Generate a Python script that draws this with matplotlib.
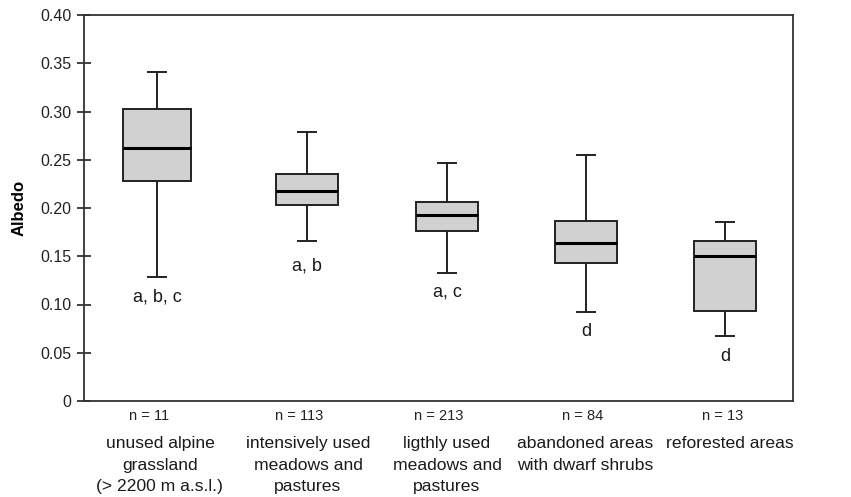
import matplotlib
matplotlib.use("Agg")
import matplotlib.pyplot as plt

plt.rcParams['font.family'] = ['Liberation Sans', 'DejaVu Sans']

categories = ["unused alpine\ngrassland\n(> 2200 m a.s.l.)",
              "intensively used\nmeadows and\npastures",
              "ligthly used\nmeadows and\npastures",
              "abandoned areas\nwith dwarf shrubs",
              "reforested areas"]
n_labels = ["n = 11", "n = 113", "n = 213", "n = 84", "n = 13"]
whislo = [0.128, 0.166, 0.133, 0.092, 0.067]
q1 = [0.228, 0.203, 0.176, 0.143, 0.093]
med = [0.262, 0.218, 0.193, 0.164, 0.150]
q3 = [0.303, 0.235, 0.206, 0.187, 0.166]
whishi = [0.341, 0.279, 0.247, 0.255, 0.186]
letters = ["a, b, c", "a, b", "a, c", "d", "d"]
letter_y = [0.108, 0.140, 0.113, 0.072, 0.046]
yticks = [0, 0.05, 0.10, 0.15, 0.20, 0.25, 0.30, 0.35, 0.40]
ytick_labels = ["0", "0.05", "0.10", "0.15", "0.20", "0.25", "0.30", "0.35", "0.40"]

# layout (x in axis units)
positions = [157, 307, 447, 586, 725]
widths = [68, 62, 62, 62, 62]
label_shift = [3, 1, 0, -1, 5]
n_shift = [-8, -8, -8.5, -3.5, -2]

fig = plt.figure(figsize=(8.51, 4.97), dpi=100)
ax = fig.add_axes([84/851, 1-401/497, (793-84)/851, (401-15)/497])

stats = []
for i in range(len(categories)):
    stats.append(dict(whislo=whislo[i], q1=q1[i], med=med[i], q3=q3[i],
                      whishi=whishi[i], fliers=[]))

edge = "#222222"
ax.bxp(stats, positions=positions, widths=widths, capwidths=[18]*5,
       patch_artist=True, showfliers=False,
       boxprops=dict(facecolor="#d0d1d0", edgecolor=edge, linewidth=1.4),
       medianprops=dict(color="#000000", linewidth=2.2),
       whiskerprops=dict(color=edge, linewidth=1.4),
       capprops=dict(color=edge, linewidth=1.4))

for i in range(len(categories)):
    ax.text(positions[i], letter_y[i], letters[i], ha="center", va="center",
            fontsize=13, color="#1a1a1a")

ax.set_xlim(84, 793)
ax.set_ylim(0, 0.40)
ax.set_yticks(yticks)
ax.set_yticklabels(ytick_labels, fontsize=11.5, color="#222222")
ax.tick_params(axis="y", direction="inout", length=10, width=1.2, color=edge, pad=4)
ax.set_xticks([])

for s in ax.spines.values():
    s.set_color("#333333")
    s.set_linewidth(1.3)

ax.set_ylabel("Albedo", fontsize=12, fontweight="bold", labelpad=10)

for i in range(len(categories)):
    ax.annotate(n_labels[i], xy=(positions[i] + n_shift[i], 0), xycoords="data",
                xytext=(0, -10.5), textcoords="offset points",
                ha="center", va="center", fontsize=10.5, color="#222222")
    ax.annotate(categories[i], xy=(positions[i] + label_shift[i], 0), xycoords="data",
                xytext=(0, -25.5), textcoords="offset points",
                ha="center", va="top", fontsize=12.6, color="#1a1a1a",
                linespacing=1.52)

fig.savefig("out.png", dpi=100)
